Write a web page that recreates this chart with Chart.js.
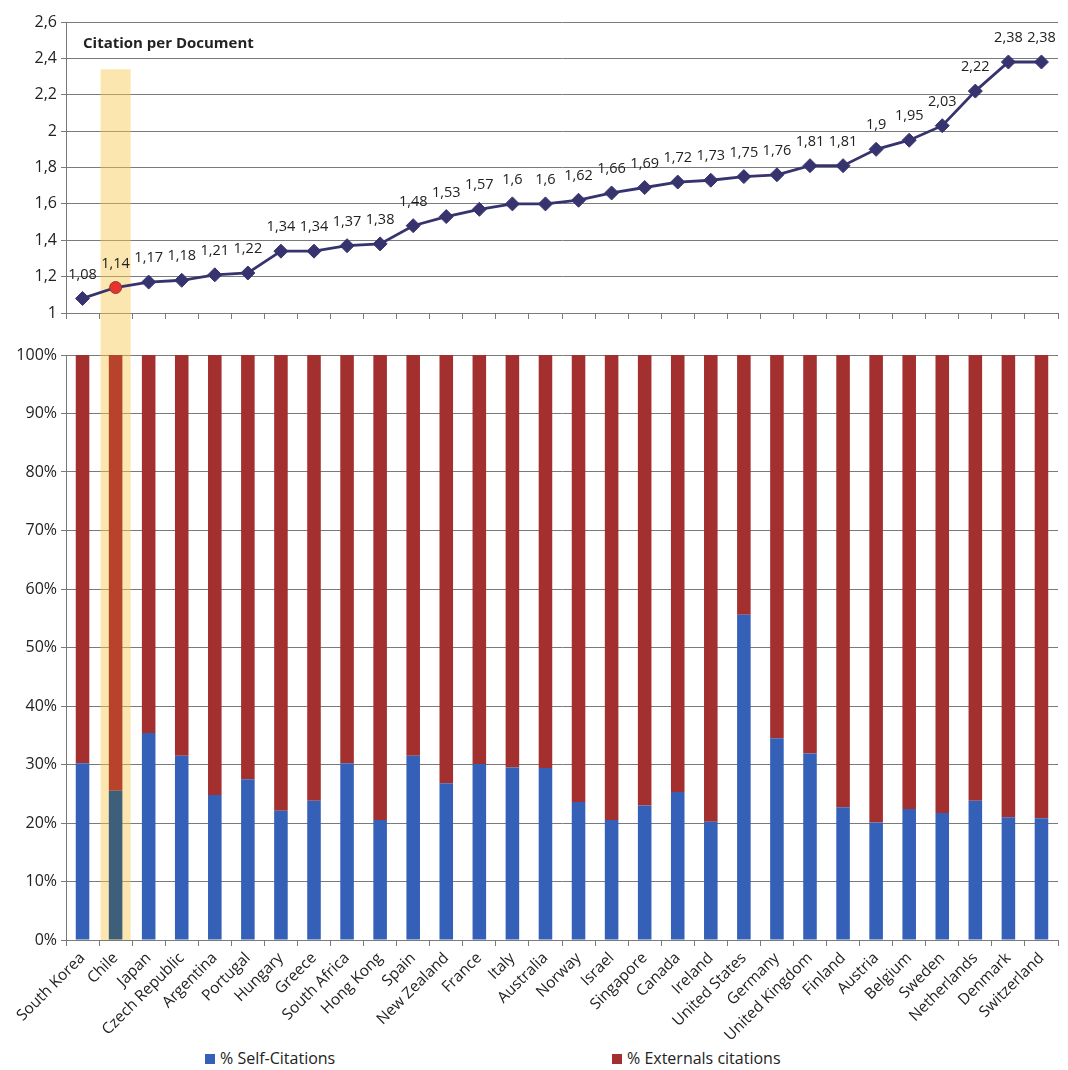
<!DOCTYPE html>
<html lang="en">
<head>
  <meta charset="UTF-8" />
  <meta name="viewport" content="width=device-width, initial-scale=1.0" />
  <title>Citation per Document | Self vs External Citations</title>
  <script src="https://cdn.jsdelivr.net/npm/chart.js"></script>
  <style>
    body {
      margin: 0;
      background: #ffffff;
      font-family: "Open Sans", sans-serif;
    }

    .wrap {
      position: relative;
      width: 1068px;
      height: 1070px;
      background: #ffffff;
    }

    .panel-top {
      position: absolute;
      left: 0;
      top: 0;
      width: 1068px;
      height: 340px;
    }

    .panel-bottom {
      position: absolute;
      left: 0;
      top: 340px;
      width: 1068px;
      height: 700px;
    }

    .legend-item {
      position: absolute;
      top: 1047px;
      font-family: "Liberation Sans Narrow", "Open Sans", sans-serif;
      font-size: 16px;
      color: #222;
      line-height: 22px;
      white-space: nowrap;
    }

    .legend-item .box {
      display: inline-block;
      width: 10px;
      height: 10px;
      margin-right: 5px;
      vertical-align: 0px;
    }
  </style>
</head>
<body>
  <div class="wrap">
    <div class="panel-top"><canvas id="cpdChart"></canvas></div>
    <div class="panel-bottom"><canvas id="shareChart"></canvas></div>

    <div class="legend-item" style="left: 205px;"><span class="box" style="background:#3560b8"></span>% Self-Citations</div>
    <div class="legend-item" style="left: 612px;"><span class="box" style="background:#a3302e"></span>% Externals citations</div>
  </div>

  <script>
    const countries = [
      "South Korea", "Chile", "Japan", "Czech Republic", "Argentina", "Portugal",
      "Hungary", "Greece", "South Africa", "Hong Kong", "Spain", "New Zealand",
      "France", "Italy", "Australia", "Norway", "Israel", "Singapore", "Canada",
      "Ireland", "United States", "Germany", "United Kingdom", "Finland", "Austria",
      "Belgium", "Sweden", "Netherlands", "Denmark", "Switzerland"
    ];

    const citationsPerDoc = [
      1.08, 1.14, 1.17, 1.18, 1.21, 1.22, 1.34, 1.34, 1.37, 1.38, 1.48, 1.53,
      1.57, 1.6, 1.6, 1.62, 1.66, 1.69, 1.72, 1.73, 1.75, 1.76, 1.81, 1.81,
      1.9, 1.95, 2.03, 2.22, 2.38, 2.38
    ];

    // % self-citations per country
    const selfCitations = [
      30.2, 25.5, 35.4, 31.5, 24.8, 27.5, 22.1, 23.8, 30.2, 20.5, 31.5, 26.8,
      30.1, 29.5, 29.4, 23.6, 20.5, 23.0, 25.3, 20.2, 55.6, 34.5, 31.9, 22.7,
      20.1, 22.4, 21.7, 23.8, 21.0, 20.8
    ];

    // % external citations per country
    const externalCitations = [
      69.8, 74.5, 64.6, 68.5, 75.2, 72.5, 77.9, 76.2, 69.8, 79.5, 68.5, 73.2,
      69.9, 70.5, 70.6, 76.4, 79.5, 77.0, 74.7, 79.8, 44.4, 65.5, 68.1, 77.3,
      79.9, 77.6, 78.3, 76.2, 79.0, 79.2
    ];

    const cpdTicks = [1, 1.2, 1.4, 1.6, 1.8, 2, 2.2, 2.4, 2.6];
    const pctTicks = [0, 10, 20, 30, 40, 50, 60, 70, 80, 90, 100];

    const highlighted = "Chile";
    const hi = countries.indexOf(highlighted);

    const BLUE = "#3560b8";
    const RED = "#a3302e";
    const BLUE_HI = "#3d5f7a";
    const RED_HI = "#b8432b";
    const LINE = "#37336f";
    const GRID = "#7a7a7a";
    const TEXT = "#222222";
    const FONT = "'Open Sans', sans-serif";

    const fmtComma = v => String(Math.round(v * 100) / 100).replace(".", ",");

    // translucent yellow column behind the highlighted country, spanning both panels
    const highlightBand = {
      id: "highlightBand",
      beforeDatasetsDraw(chart, args, opts) {
        const x = chart.scales.x;
        const idx = x.getLabels().indexOf(opts.label);
        if (idx < 0) return;
        const w = x.getPixelForValue(1) - x.getPixelForValue(0);
        const cx = x.getPixelForValue(idx);
        const top = opts.fromValue != null ? chart.scales.y.getPixelForValue(opts.fromValue) : 0;
        const bottom = opts.toEdge ? chart.height : chart.chartArea.bottom;
        const ctx = chart.ctx;
        ctx.save();
        ctx.fillStyle = "rgba(248, 200, 80, 0.45)";
        ctx.fillRect(cx - w / 2 + 1.5, top, w - 3, bottom - top);
        ctx.restore();
      }
    };

    // value labels above each marker, comma decimal
    const valueLabels = {
      id: "valueLabels",
      afterDatasetsDraw(chart) {
        const meta = chart.getDatasetMeta(0);
        const data = chart.data.datasets[0].data;
        const ctx = chart.ctx;
        ctx.save();
        ctx.font = "14.5px " + FONT;
        ctx.fillStyle = "#222";
        ctx.textAlign = "center";
        ctx.textBaseline = "middle";
        meta.data.forEach((pt, i) => {
          ctx.fillText(fmtComma(data[i]), pt.x, pt.y - 24);
        });
        ctx.restore();
      }
    };

    // panel caption inside the plot area
    const panelCaption = {
      id: "panelCaption",
      afterDraw(chart, args, opts) {
        const ctx = chart.ctx;
        ctx.save();
        ctx.font = "bold 15px " + FONT;
        ctx.fillStyle = TEXT;
        ctx.textAlign = "left";
        ctx.textBaseline = "middle";
        ctx.fillText(opts.text, chart.chartArea.left + 17, chart.chartArea.top + 22);
        ctx.restore();
      }
    };

    Chart.defaults.font.family = FONT;
    Chart.defaults.color = TEXT;

    new Chart(document.getElementById("cpdChart"), {
      type: "line",
      data: {
        labels: countries,
        datasets: [{
          label: "Citation per Document",
          data: citationsPerDoc,
          borderColor: LINE,
          borderWidth: 2.8,
          tension: 0,
          pointStyle: countries.map((c, i) => i === hi ? "circle" : "rectRot"),
          pointRadius: countries.map((c, i) => i === hi ? 6 : 7),
          pointBackgroundColor: countries.map((c, i) => i === hi ? "#e8332a" : LINE),
          pointBorderColor: countries.map((c, i) => i === hi ? "#8a3a3a" : LINE),
          pointBorderWidth: 1
        }]
      },
      options: {
        responsive: true,
        maintainAspectRatio: false,
        animation: false,
        layout: { padding: { top: 22, right: 10, left: 0, bottom: 0 } },
        plugins: {
          legend: { display: false },
          tooltip: { enabled: false },
          highlightBand: { label: highlighted, fromValue: 2.34, toEdge: true },
          panelCaption: { text: "Citation per Document" }
        },
        scales: {
          x: {
            type: "category",
            offset: true,
            ticks: { display: false },
            grid: { offset: true, drawOnChartArea: false, drawTicks: true, tickLength: 6, color: GRID },
            border: { display: true, color: GRID },
            afterFit(scale) { scale.height = 27; }
          },
          y: {
            min: cpdTicks[0],
            max: cpdTicks[cpdTicks.length - 1],
            afterBuildTicks(scale) { scale.ticks = cpdTicks.map(v => ({ value: v })); },
            ticks: {
              padding: 4,
              font: { size: 16 },
              color: TEXT,
              callback: v => fmtComma(v)
            },
            grid: { color: GRID, tickLength: 5 },
            border: { display: true, color: GRID },
            afterFit(scale) { scale.width = 66; }
          }
        }
      },
      plugins: [highlightBand, valueLabels, panelCaption]
    });

    new Chart(document.getElementById("shareChart"), {
      type: "bar",
      data: {
        labels: countries,
        datasets: [
          {
            label: "% Self-Citations",
            data: selfCitations,
            backgroundColor: countries.map((c, i) => i === hi ? BLUE_HI : BLUE),
            barPercentage: 0.41,
            categoryPercentage: 1
          },
          {
            label: "% Externals citations",
            data: externalCitations,
            backgroundColor: countries.map((c, i) => i === hi ? RED_HI : RED),
            barPercentage: 0.41,
            categoryPercentage: 1
          }
        ]
      },
      options: {
        responsive: true,
        maintainAspectRatio: false,
        animation: false,
        layout: { padding: { top: 15, right: 10, left: 0, bottom: 0 } },
        plugins: {
          legend: { display: false },
          tooltip: { enabled: false },
          highlightBand: { label: highlighted, toEdge: false }
        },
        scales: {
          x: {
            stacked: true,
            ticks: {
              minRotation: 45,
              maxRotation: 45,
              autoSkip: false,
              padding: 3,
              font: { size: 15.5 },
              color: TEXT
            },
            grid: { offset: true, drawOnChartArea: false, drawTicks: true, tickLength: 6, color: GRID },
            border: { display: true, color: GRID },
            afterFit(scale) { scale.height = 100; }
          },
          y: {
            stacked: true,
            min: 0,
            max: 100,
            afterBuildTicks(scale) { scale.ticks = pctTicks.map(v => ({ value: v })); },
            ticks: {
              padding: 4,
              font: { size: 16 },
              color: TEXT,
              callback: v => v + "%"
            },
            grid: { color: GRID, tickLength: 5 },
            border: { display: true, color: GRID },
            afterFit(scale) { scale.width = 66; }
          }
        }
      },
      plugins: [highlightBand]
    });
  </script>
</body>
</html>
